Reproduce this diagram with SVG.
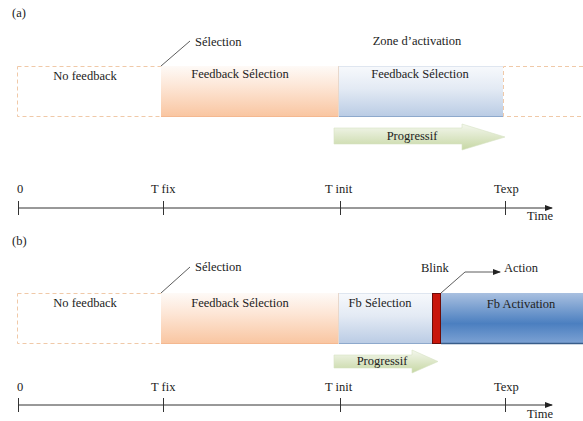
<svg xmlns="http://www.w3.org/2000/svg" width="583" height="421" viewBox="0 0 583 421" font-family="'Liberation Serif', 'DejaVu Serif', 'Times New Roman', serif">
<style>
text{font-family:"Liberation Serif","DejaVu Serif","Times New Roman",serif;font-size:12.5px;fill:#222}
.dash{fill:#fff;stroke:#f0c9a8;stroke-width:1;stroke-dasharray:4,3}
.ax{stroke:#333;stroke-width:1;fill:none}
.lead{stroke:#333;stroke-width:0.8;fill:none}
.prog{fill:url(#gGreen);stroke:#d7e2c4;stroke-width:0.6}
</style>
<defs>
<linearGradient id="gOrange" x1="0" y1="0" x2="0" y2="1">
<stop offset="0" stop-color="#fefaf7"/><stop offset="0.4" stop-color="#fde6d6"/><stop offset="1" stop-color="#f9c5a0"/>
</linearGradient>
<linearGradient id="gBlue" x1="0" y1="0" x2="0" y2="1">
<stop offset="0" stop-color="#f7f9fc"/><stop offset="0.45" stop-color="#e3eaf4"/><stop offset="1" stop-color="#b9cbe4"/>
</linearGradient>
<linearGradient id="gDark" x1="0" y1="0" x2="0" y2="1">
<stop offset="0" stop-color="#a9c0e0"/><stop offset="0.6" stop-color="#4b7fc0"/><stop offset="1" stop-color="#7ea3d4"/>
</linearGradient>
<linearGradient id="gGreen" x1="0" y1="0" x2="0" y2="1">
<stop offset="0" stop-color="#f4f7ee"/><stop offset="1" stop-color="#c6d7a3"/>
</linearGradient>
<marker id="arr" markerWidth="8" markerHeight="6" refX="7" refY="3" orient="auto" markerUnits="userSpaceOnUse">
<path d="M0,0 L8,3 L0,6 Z" fill="#222"/>
</marker>
</defs>
<rect width="583" height="421" fill="#fff"/>

<text x="12" y="17">(a)</text>
<text x="12" y="245">(b)</text>

<!-- (a) -->
<g id="a-nofeedback">
<rect class="dash" x="17.5" y="66.5" width="144" height="50"/>
<text x="85" y="80" text-anchor="middle">No feedback</text>
</g>
<g id="a-feedback-selection">
<rect x="161" y="66" width="177" height="51" fill="url(#gOrange)"/>
<line x1="161" y1="116.5" x2="338" y2="116.5" stroke="#f4b890" stroke-width="1"/>
<text x="240" y="78" text-anchor="middle">Feedback Sélection</text>
</g>
<g id="a-zone-activation">
<rect x="338" y="66" width="165" height="51" fill="url(#gBlue)"/>
<line x1="338" y1="116.5" x2="503" y2="116.5" stroke="#8ea9cc" stroke-width="1.2"/>
<line x1="338" y1="66.5" x2="503" y2="66.5" stroke="#dfe6f0" stroke-width="1"/>
<line x1="338.5" y1="66" x2="338.5" y2="117" stroke="#e8d8cc" stroke-width="1"/>
<text x="420" y="78" text-anchor="middle">Feedback Sélection</text>
</g>
<g id="a-after">
<path class="dash" d="M590,66.5 H503.5 V116.5 H590"/>
</g>
<g id="a-selection-label">
<text x="195" y="46">Sélection</text>
</g>
<g id="a-zone-label">
<text x="417" y="45" text-anchor="middle">Zone d’activation</text>
</g>
<g id="a-progressif">
<path class="prog" d="M334,128 H462 V124 L505,137 L462,150 V144 H334 Z"/>
<text x="412" y="140" text-anchor="middle">Progressif</text>
</g>
<g id="a-timeline">
<text x="17" y="193">0</text>
<text x="151" y="193">T fix</text>
<text x="325" y="193">T init</text>
<text x="494" y="193">Texp</text>
<text x="527" y="220">Time</text>
</g>

<!-- (b) -->
<g id="b-nofeedback">
<rect class="dash" x="17.5" y="293.5" width="144" height="50"/>
<text x="85" y="307" text-anchor="middle">No feedback</text>
</g>
<g id="b-feedback-selection">
<rect x="161" y="293" width="177" height="51" fill="url(#gOrange)"/>
<line x1="161" y1="343.5" x2="338" y2="343.5" stroke="#f4b890" stroke-width="1"/>
<text x="240" y="307" text-anchor="middle">Feedback Sélection</text>
</g>
<g id="b-fb-selection">
<rect x="338" y="293" width="94" height="51" fill="url(#gBlue)"/>
<line x1="338" y1="343.5" x2="432" y2="343.5" stroke="#8ea9cc" stroke-width="1.2"/>
<line x1="338" y1="293.5" x2="432" y2="293.5" stroke="#dfe6f0" stroke-width="1"/>
<line x1="338.5" y1="293" x2="338.5" y2="344" stroke="#e8d8cc" stroke-width="1"/>
<text x="380" y="307" text-anchor="middle">Fb Sélection</text>
</g>
<g id="b-blink">
<rect x="432.5" y="293.5" width="8" height="50" fill="#c8160c" stroke="#6b0c08" stroke-width="1"/>
<text x="421" y="272">Blink</text>
</g>
<g id="b-fb-activation">
<rect x="441" y="293" width="142" height="51" fill="url(#gDark)"/>
<line x1="441" y1="343.5" x2="583" y2="343.5" stroke="#385d8a" stroke-width="1.4"/>
<text x="521" y="308" text-anchor="middle">Fb Activation</text>
</g>
<g id="b-action">
<text x="504" y="272">Action</text>
</g>
<g id="b-selection-label">
<text x="195" y="271">Sélection</text>
</g>
<g id="b-progressif">
<path class="prog" d="M334,355 H412 V350 L438,361.5 L412,373 V368 H334 Z"/>
<text x="382" y="365" text-anchor="middle">Progressif</text>
</g>
<g id="b-timeline">
<text x="17" y="391">0</text>
<text x="151" y="391">T fix</text>
<text x="325" y="391">T init</text>
<text x="494" y="391">Texp</text>
<text x="527" y="418">Time</text>
</g>

<g id="connectors">
<line class="lead" x1="161" y1="66" x2="190" y2="41"/>
<line class="lead" x1="161" y1="293" x2="190" y2="267"/>
<polyline class="lead" points="441,293 465,272 500,272" marker-end="url(#arr)"/>
<line class="ax" x1="18" y1="208" x2="552" y2="208" marker-end="url(#arr)"/>
<line class="ax" x1="18.5" y1="201" x2="18.5" y2="215"/>
<line class="ax" x1="163.5" y1="201" x2="163.5" y2="215"/>
<line class="ax" x1="340.5" y1="201" x2="340.5" y2="215"/>
<line class="ax" x1="505.5" y1="201" x2="505.5" y2="215"/>
<line class="ax" x1="18" y1="405" x2="552" y2="405" marker-end="url(#arr)"/>
<line class="ax" x1="18.5" y1="398" x2="18.5" y2="412"/>
<line class="ax" x1="163.5" y1="398" x2="163.5" y2="412"/>
<line class="ax" x1="340.5" y1="398" x2="340.5" y2="412"/>
<line class="ax" x1="505.5" y1="398" x2="505.5" y2="412"/>
</g>
</svg>
